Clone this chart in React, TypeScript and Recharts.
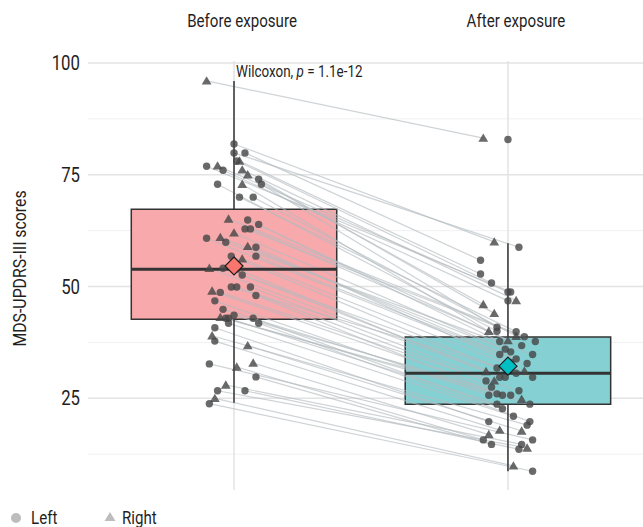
import React from 'react'
import { ComposedChart, XAxis, YAxis, Scatter, ReferenceLine, ReferenceArea } from 'recharts'

const FONT = 'Roboto, sans-serif'
// the reference uses a condensed face; squeeze Roboto horizontally
const SQUEEZE = 0.84

const groups = ['Before exposure', 'After exposure']
const yTicks = [25, 50, 75, 100]
const gridMajor = [25, 50, 75, 100]
const gridMinor = [12.5, 37.5, 62.5, 87.5]

// paired scores, index i before <-> index i after
const beforeScore = [
  96, 81.9, 79.9, 79.9, 78.1, 78.1, 77.0, 76.9, 76.1, 76.0,
  75.0, 74.0, 72.9, 72.9, 72.9, 70.0, 70.0, 65.1, 64.9, 63.9,
  62.9, 62.9, 62.0, 61.0, 60.8, 59.9, 59.0, 58.8, 56.8, 56.8,
  56.2, 54.1, 54.1, 53.9, 52.6, 49.9, 49.9, 49.9, 49.0, 48.7,
  48.0, 46.8, 44.9, 43.6, 43.1, 42.9, 42.9, 42.9, 41.8, 41.8,
  40.8, 39.0, 37.8, 36.8, 32.9, 32.7, 32.0, 29.8, 28.0, 26.7,
  26.7, 25.0, 23.8,
]
const beforeJitter = [
  -0.10, 0.00, 0.00, 0.04, 0.02, 0.01, -0.06, -0.10, 0.03, -0.04,
  0.05, 0.09, 0.10, 0.03, -0.06, 0.02, 0.07, -0.02, 0.05, 0.09,
  0.04, 0.06, 0.00, -0.05, -0.10, -0.03, 0.05, 0.08, 0.08, -0.01,
  0.03, -0.09, -0.04, 0.01, 0.03, -0.01, 0.01, 0.06, -0.08, -0.05,
  0.08, -0.07, -0.04, 0.00, -0.05, -0.03, -0.02, 0.07, -0.02, 0.09,
  -0.07, -0.08, -0.07, 0.05, 0.07, -0.09, 0.01, 0.08, -0.03, -0.06,
  0.04, -0.07, -0.09,
]
const beforeSide = [
  'R', 'L', 'L', 'L', 'R', 'L', 'R', 'L', 'R', 'L',
  'R', 'L', 'L', 'R', 'L', 'L', 'L', 'R', 'L', 'L',
  'L', 'L', 'R', 'R', 'L', 'L', 'R', 'L', 'L', 'L',
  'R', 'R', 'L', 'L', 'L', 'L', 'L', 'L', 'R', 'L',
  'L', 'L', 'L', 'L', 'R', 'L', 'L', 'L', 'L', 'L',
  'L', 'R', 'L', 'R', 'R', 'L', 'R', 'L', 'R', 'L',
  'L', 'R', 'L',
]

const afterScore = [
  83.2, 60.0, 58.8, 55.9, 52.8, 50.8, 48.8, 48.8, 46.9, 46.8,
  46.0, 44.0, 40.9, 40.0, 40.0, 39.9, 38.9, 38.8, 37.9, 37.7,
  37.7, 36.8, 36.0, 35.4, 34.8, 34.8, 33.8, 33.0, 32.8, 31.8,
  31.1, 31.0, 30.6, 29.7, 29.7, 29.7, 28.9, 28.9, 27.5, 26.7,
  26.0, 25.7, 25.7, 25.7, 24.8, 23.7, 23.7, 22.7, 21.0, 19.8,
  19.8, 19.0, 17.9, 17.7, 16.9, 15.7, 15.7, 14.7, 14.7, 13.9,
  13.6, 9.9, 8.7,
]
const afterJitter = [
  -0.09, -0.05, 0.04, -0.10, -0.10, -0.06, 0.00, 0.01, 0.03, 0.00,
  -0.09, -0.05, -0.04, -0.07, -0.04, 0.03, 0.03, 0.06, 0.00, -0.03,
  0.10, 0.05, -0.01, 0.01, -0.03, 0.09, 0.03, 0.01, 0.07, -0.04,
  0.06, -0.08, 0.03, -0.03, -0.01, 0.09, -0.08, -0.05, -0.06, 0.04,
  -0.04, -0.07, -0.02, 0.01, 0.05, 0.08, -0.04, -0.02, 0.02, 0.08,
  -0.07, 0.07, -0.03, 0.05, -0.07, 0.09, -0.09, -0.06, 0.05, 0.07,
  0.04, 0.02, 0.09,
]
const afterSide = [
  'R', 'R', 'L', 'L', 'L', 'L', 'L', 'L', 'R', 'L',
  'R', 'R', 'L', 'R', 'L', 'L', 'R', 'L', 'R', 'L',
  'L', 'L', 'L', 'L', 'L', 'L', 'L', 'L', 'L', 'L',
  'R', 'R', 'L', 'L', 'L', 'L', 'L', 'R', 'L', 'L',
  'L', 'L', 'L', 'L', 'R', 'L', 'L', 'L', 'L', 'L',
  'L', 'L', 'R', 'R', 'R', 'L', 'L', 'L', 'L', 'R',
  'L', 'R', 'L',
]
// after-exposure point without a matching line
const unpairedScore = [82.9]
const unpairedJitter = [0]
const unpairedSide = ['L']

// box summary per group
const boxLow = [24, 8.7]
const boxQ1 = [42.7, 23.7]
const boxMedian = [53.9, 30.6]
const boxQ3 = [67.3, 38.7]
const boxHigh = [96, 59.7]
const groupMean = [54.6, 32.2]

const BOX_FILL = ['#f7a9ac', '#84d0d3']
const MEAN_FILL = ['#f8766d', '#00bfc4']
const INK = '#333333'
const HALF = 0.375

const beforePts = beforeScore.map((y, i) => ({ x: 1 + beforeJitter[i], y, side: beforeSide[i] }))
const afterPts = afterScore
  .map((y, i) => ({ x: 2 + afterJitter[i], y, side: afterSide[i] }))
  .concat(unpairedScore.map((y, i) => ({ x: 2 + unpairedJitter[i], y, side: unpairedSide[i] })))
const meanPts = groupMean.map((y, i) => ({ x: i + 1, y, fill: MEAN_FILL[i] }))
const notePts = [{ x: 1, y: 98 }]

function NarrowText({ x, y, size, anchor = 'start', rotate = 0, squeeze = SQUEEZE, children }: any) {
  return (
    <g transform={`translate(${x},${y}) rotate(${rotate}) scale(${squeeze},1)`}>
      <text x={0} y={0} fontSize={size} textAnchor={anchor} fill="#1f1f1f" fontFamily={FONT}>
        {children}
      </text>
    </g>
  )
}

function XTick(props: any) {
  const { x, payload } = props
  return (
    <NarrowText x={x + 8} y={27} size={18} anchor="middle">
      {groups[payload.value - 1]}
    </NarrowText>
  )
}

function YTick(props: any) {
  const { x, y, payload } = props
  return (
    <NarrowText x={x} y={y + 7} size={20} anchor="end">
      {payload.value}
    </NarrowText>
  )
}

function PointShape(props: any) {
  const { cx, cy, payload } = props
  if (payload.side === 'L') {
    return <circle cx={cx} cy={cy} r={3.7} fill="#454545" fillOpacity={0.8} />
  }
  return (
    <polygon
      points={`${cx},${cy - 4.7} ${cx + 4.9},${cy + 3.7} ${cx - 4.9},${cy + 3.7}`}
      fill="#454545"
      fillOpacity={0.8}
    />
  )
}

function MeanShape(props: any) {
  const { cx, cy, payload } = props
  const s = 9
  return (
    <polygon
      points={`${cx},${cy - s} ${cx + s},${cy} ${cx},${cy + s} ${cx - s},${cy}`}
      fill={payload.fill}
      stroke="#1a1a1a"
      strokeWidth={1.2}
    />
  )
}

function NoteShape(props: any) {
  const { cx, cy } = props
  return (
    <NarrowText x={cx + 2} y={cy + 5} size={16}>
      Wilcoxon, <tspan fontStyle="italic">p</tspan> = 1.1e-12
    </NarrowText>
  )
}

function YTitle(props: any) {
  const { viewBox } = props
  const cy = viewBox.y + viewBox.height / 2 - 7
  return (
    <NarrowText x={26} y={cy} size={18} anchor="middle" rotate={-90} squeeze={0.88}>
      MDS-UPDRS-III scores
    </NarrowText>
  )
}

export default function App() {
  return (
    <div style={{ position: 'absolute', left: 0, top: 0, width: 643, height: 527, background: '#fff' }}>
      <ComposedChart width={643} height={527} margin={{ top: 0, right: 0, bottom: 37, left: 0 }}>
        <XAxis
          dataKey="x"
          type="number"
          orientation="top"
          domain={[0.467, 2.493]}
          allowDataOverflow
          ticks={[1, 2]}
          axisLine={false}
          tickLine={false}
          tickSize={0}
          height={61}
          tick={<XTick />}
        />
        <YAxis
          dataKey="y"
          type="number"
          domain={[4.5, 100.45]}
          allowDataOverflow
          ticks={yTicks}
          axisLine={false}
          tickLine={false}
          tickSize={0}
          tickMargin={8}
          width={88}
          tick={<YTick />}
          label={<YTitle />}
        />

        {gridMinor.map((v) => (
          <ReferenceLine key={`gm${v}`} y={v} stroke="#f1f1f1" strokeWidth={1} zIndex={-60} />
        ))}
        {gridMajor.map((v) => (
          <ReferenceLine key={`gM${v}`} y={v} stroke="#e3e3e3" strokeWidth={1.5} zIndex={-50} />
        ))}
        {groups.map((g, i) => (
          <ReferenceLine key={`gv${g}`} x={i + 1} stroke="#e3e3e3" strokeWidth={1.5} zIndex={-50} />
        ))}

        {groups.map((g, i) => (
          <ReferenceArea
            key={`box${g}`}
            x1={i + 1 - HALF}
            x2={i + 1 + HALF}
            y1={boxQ1[i]}
            y2={boxQ3[i]}
            fill={BOX_FILL[i]}
            fillOpacity={1}
            stroke={INK}
            strokeWidth={1.5}
            ifOverflow="visible"
            zIndex={100}
          />
        ))}

        {beforePts.map((p, i) => (
          <ReferenceLine
            key={`pair${i}`}
            segment={[
              { x: p.x, y: p.y },
              { x: afterPts[i].x, y: afterPts[i].y },
            ]}
            stroke="#b4bcc0"
            strokeOpacity={0.65}
            strokeWidth={1.2}
            ifOverflow="visible"
            zIndex={200}
          />
        ))}

        {groups.map((g, i) => (
          <ReferenceLine
            key={`wh${g}`}
            segment={[
              { x: i + 1, y: boxQ3[i] },
              { x: i + 1, y: boxHigh[i] },
            ]}
            stroke={INK}
            strokeWidth={1.5}
            ifOverflow="visible"
            zIndex={300}
          />
        ))}
        {groups.map((g, i) => (
          <ReferenceLine
            key={`wl${g}`}
            segment={[
              { x: i + 1, y: boxLow[i] },
              { x: i + 1, y: boxQ1[i] },
            ]}
            stroke={INK}
            strokeWidth={1.5}
            ifOverflow="visible"
            zIndex={300}
          />
        ))}
        {groups.map((g, i) => (
          <ReferenceLine
            key={`md${g}`}
            segment={[
              { x: i + 1 - HALF, y: boxMedian[i] },
              { x: i + 1 + HALF, y: boxMedian[i] },
            ]}
            stroke={INK}
            strokeWidth={3}
            ifOverflow="visible"
            zIndex={300}
          />
        ))}

        <Scatter data={beforePts} shape={<PointShape />} isAnimationActive={false} zIndex={600} />
        <Scatter data={afterPts} shape={<PointShape />} isAnimationActive={false} zIndex={600} />
        <Scatter data={meanPts} shape={<MeanShape />} isAnimationActive={false} zIndex={700} />
        <Scatter data={notePts} shape={<NoteShape />} isAnimationActive={false} zIndex={800} />
      </ComposedChart>

      <svg width={200} height={30} style={{ position: 'absolute', left: 0, top: 503 }}>
        <circle cx={16} cy={15} r={5} fill="#bdbdbd" />
        <NarrowText x={31} y={21} size={18}>Left</NarrowText>
        <polygon points="110,9 115.5,18 104.5,18" fill="#bdbdbd" />
        <NarrowText x={122} y={21} size={18}>Right</NarrowText>
      </svg>
    </div>
  )
}
